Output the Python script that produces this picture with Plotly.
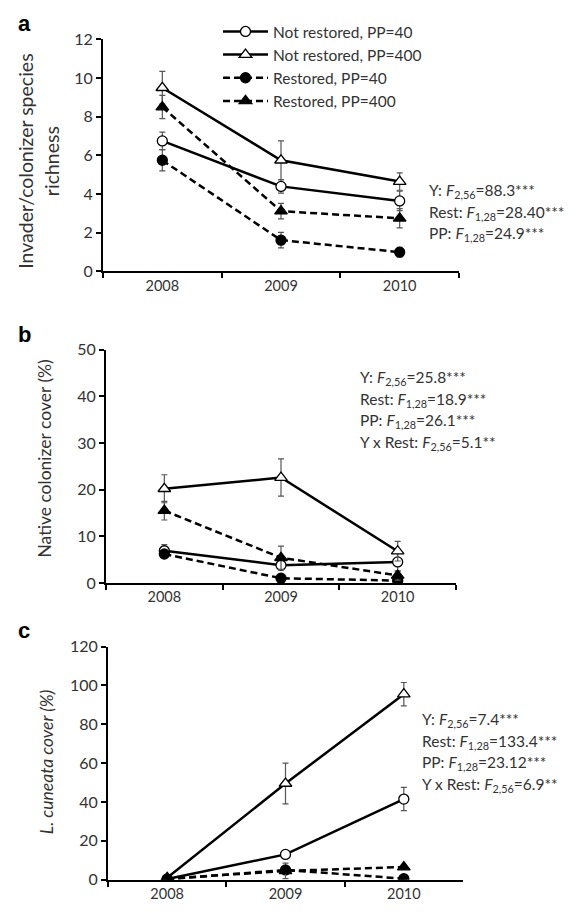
import plotly.graph_objects as go

years = ["2008", "2009", "2010"]
series_names = ["Not restored, PP=40", "Not restored, PP=400", "Restored, PP=40", "Restored, PP=400"]

# Panel a: invader/colonizer species richness
a_nr40 = [6.75, 4.4, 3.65]
a_nr40_err = [0.45, 0.35, 0.5]
a_nr400 = [9.5, 5.75, 4.65]
a_nr400_err = [0.85, 1.0, 0.45]
a_r40 = [5.75, 1.62, 1.0]
a_r40_err = [0.55, 0.4, 0.25]
a_r400 = [8.5, 3.12, 2.75]
a_r400_err = [0.6, 0.4, 0.5]

# Panel b: native colonizer cover (%)
b_nr40 = [6.9, 3.8, 4.5]
b_nr40_err = [1.3, 1.0, 2.0]
b_nr400 = [20.2, 22.6, 6.8]
b_nr400_err = [3.0, 4.0, 2.1]
b_r40 = [6.2, 1.0, 0.5]
b_r40_err = [0.8, 0.5, 0.4]
b_r400 = [15.5, 5.4, 1.6]
b_r400_err = [2.0, 2.5, 1.0]

# Panel c: L. cuneata cover (%)
c_nr40 = [0.3, 13.0, 41.5]
c_nr40_err = [0.3, 1.5, 6.0]
c_nr400 = [1.0, 49.5, 95.5]
c_nr400_err = [1.5, 10.5, 6.0]
c_r40 = [0.2, 5.0, 0.5]
c_r40_err = [0.2, 1.5, 0.5]
c_r400 = [0.5, 4.5, 6.5]
c_r400_err = [0.5, 4.0, 1.0]

y_titles = ["Invader/colonizer species<br>richness", "Native colonizer cover (%)", "<i>L. cuneata cover (%)</i>"]
y_title_sizes = [19.5, 17.5, 17.5]
y_ranges = [[0, 12], [0, 50], [0, 120]]
y_dticks = [2, 10, 20]
panel_letters = ["a", "b", "c"]

stats_a = ["Y: <i>F</i><sub>2,56</sub>=88.3***",
           "Rest: <i>F</i><sub>1,28</sub>=28.40***",
           "PP: <i>F</i><sub>1,28</sub>=24.9***"]
stats_b = ["Y: <i>F</i><sub>2,56</sub>=25.8***",
           "Rest: <i>F</i><sub>1,28</sub>=18.9***",
           "PP: <i>F</i><sub>1,28</sub>=26.1***",
           "Y x Rest: <i>F</i><sub>2,56</sub>=5.1**"]
stats_c = ["Y: <i>F</i><sub>2,56</sub>=7.4***",
           "Rest: <i>F</i><sub>1,28</sub>=133.4***",
           "PP: <i>F</i><sub>1,28</sub>=23.12***",
           "Y x Rest: <i>F</i><sub>2,56</sub>=6.9**"]

W, H = 580, 920
FONT = "Lato, Calibri, sans-serif"
TXT = "#333333"

styles = [
    dict(symbol="circle-open", fill="white", dash="solid"),
    dict(symbol="triangle-up-open", fill="white", dash="solid"),
    dict(symbol="circle", fill="black", dash="7px,4px"),
    dict(symbol="triangle-up", fill="black", dash="7px,4px"),
]

panels = [
    [(a_nr40, a_nr40_err), (a_nr400, a_nr400_err), (a_r40, a_r40_err), (a_r400, a_r400_err)],
    [(b_nr40, b_nr40_err), (b_nr400, b_nr400_err), (b_r40, b_r40_err), (b_r400, b_r400_err)],
    [(c_nr40, c_nr40_err), (c_nr400, c_nr400_err), (c_r40, c_r40_err), (c_r400, c_r400_err)],
]

# pixel boxes of plot areas: (left, right, top, bottom)
boxes = [(103, 459, 30, 267), (106, 456, 347, 585), (108, 463, 650, 888)]

fig = go.Figure()
layout = dict(width=W, height=H, margin=dict(l=0, r=0, t=0, b=0),
              paper_bgcolor="white", plot_bgcolor="white",
              font=dict(family=FONT, color=TXT, size=15))

annotations = []
for p, (series, box) in enumerate(zip(panels, boxes)):
    xa = "x" if p == 0 else f"x{p+1}"
    ya = "y" if p == 0 else f"y{p+1}"
    for s, ((vals, errs), st) in enumerate(zip(series, styles)):
        sym = st["symbol"]
        fig.add_trace(go.Scatter(
            x=years, y=vals, xaxis=xa, yaxis=ya,
            mode="lines+markers",
            name=series_names[s], showlegend=(p == 0),
            line=dict(color="black", width=2.5, dash=st["dash"]),
            marker=dict(symbol=sym.replace("-open", ""), size=11 if "triangle" in sym else 10,
                        color=st["fill"], line=dict(color="black", width=1.3)),
            error_y=dict(type="data", array=errs, visible=True, color="#555555",
                         thickness=1.2, width=3),
        ))
    l, r, t, b = box
    dom_x = [l / W, r / W]
    dom_y = [1 - b / H, 1 - t / H]
    xkey = "xaxis" if p == 0 else f"xaxis{p+1}"
    ykey = "yaxis" if p == 0 else f"yaxis{p+1}"
    layout[xkey] = dict(domain=dom_x, anchor=ya, type="category", categoryorder="array",
                        categoryarray=years, range=[-0.5, 2.5], tickson="boundaries",
                        ticks="outside", ticklen=5, tickwidth=1.5, tickcolor="black",
                        showline=True, linecolor="black", linewidth=2, showgrid=False,
                        tickfont=dict(size=14.5, color=TXT), zeroline=False)
    layout[ykey] = dict(domain=dom_y, anchor=xa, range=y_ranges[p], dtick=y_dticks[p],
                        ticks="outside", ticklen=5, tickwidth=1.5, tickcolor="black",
                        showline=True, linecolor="black", linewidth=2, showgrid=False,
                        zeroline=False, tickfont=dict(size=16, color=TXT))
    # panel letter
    annotations.append(dict(text=f"<b>{panel_letters[p]}</b>", xref="paper", yref="paper",
                            x=16 / W, y=1 - (t - 16) / H, xanchor="left", yanchor="middle",
                            showarrow=False, font=dict(family="Arial, Liberation Sans", size=22, color="black")))

# y axis titles
ytitle_pos = [(38, 155), (45, 458), (46, 768)]
for p, (px, py) in enumerate(ytitle_pos):
    annotations.append(dict(text=y_titles[p], xref="paper", yref="paper",
                            x=px / W, y=1 - py / H, xanchor="center", yanchor="middle",
                            textangle=-90, showarrow=False,
                            font=dict(size=y_title_sizes[p], color=TXT, family=FONT)))

# stats annotations
for lines, (px, py0) in [(stats_a, (427, 185)), (stats_b, (358, 376)), (stats_c, (420, 725))]:
    for i, txt in enumerate(lines):
        annotations.append(dict(text=txt, xref="paper", yref="paper",
                                x=px / W, y=1 - (py0 + i * 22) / H,
                                xanchor="left", yanchor="middle", showarrow=False,
                                font=dict(size=15.5, color=TXT, family=FONT)))

layout["annotations"] = annotations
layout["legend"] = dict(x=218 / W, y=1 - 5 / H, xanchor="left", yanchor="top",
                        bgcolor="rgba(0,0,0,0)",
                        font=dict(size=15.5, color=TXT, family=FONT),
                        tracegroupgap=0, itemwidth=45)
layout["showlegend"] = True
fig.update_layout(**layout)
fig.write_html("out.html")
